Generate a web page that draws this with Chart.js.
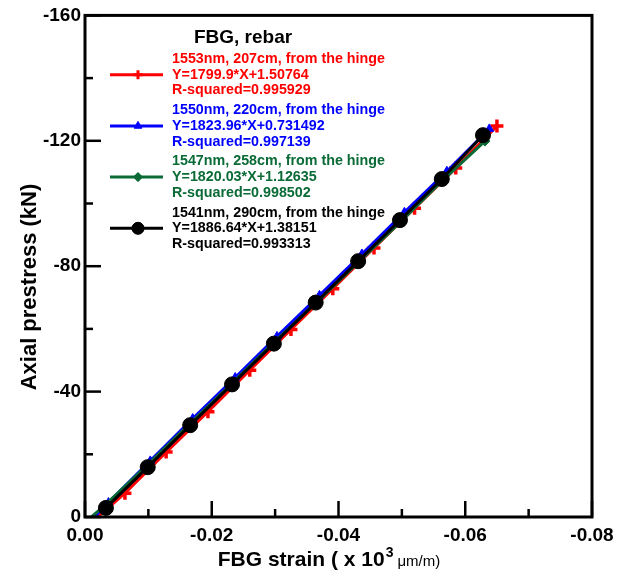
<!DOCTYPE html>
<html>
<head>
<meta charset="utf-8">
<script src="https://cdn.jsdelivr.net/npm/chart.js@4/dist/chart.umd.min.js"></script>
<style>
html,body{margin:0;padding:0;background:#fff;}
#wrap{width:623px;height:580px;}
</style>
</head>
<body>
<div id="wrap"><canvas id="c" width="623" height="580"></canvas></div>
<script>
// ---- data (strain in x10^3 um/m, prestress in kN) ----
const seriesNames = ["1553nm, 207cm, from the hinge","1550nm, 220cm, from the hinge","1547nm, 258cm, from the hinge","1541nm, 290cm, from the hinge"];
const fitTexts = ["Y=1799.9*X+1.50764","Y=1823.96*X+0.731492","Y=1820.03*X+1.12635","Y=1886.64*X+1.38151"];
const r2Texts = ["R-squared=0.995929","R-squared=0.997139","R-squared=0.998502","R-squared=0.993313"];
const legendTitle = "FBG, rebar";

const redX   = [-0.0020,-0.0063,-0.0128,-0.0194,-0.0260,-0.0325,-0.0391,-0.0456,-0.0520,-0.0585,-0.0650];
const redY   = [0,-7.6,-20.7,-33.6,-46.8,-59.8,-72.8,-85.8,-98.5,-111.3,-124.7];
const blueX  = [-0.0015,-0.0037,-0.0103,-0.0170,-0.0237,-0.0303,-0.0370,-0.0437,-0.0504,-0.0571,-0.0638];
const blueY  = [0,-4.6,-17.9,-31.4,-44.5,-57.6,-70.7,-83.9,-97.2,-110.3,-123.8];
const greenX = [-0.0010,-0.0030,-0.0097,-0.0164,-0.0230,-0.0296,-0.0364,-0.0431,-0.0497,-0.0563,-0.0631];
const greenY = [0,-3.5,-16.3,-29.5,-42.2,-55.3,-68.1,-81.2,-94.0,-107.1,-119.9];
const blackX = [-0.0033,-0.0099,-0.0166,-0.0232,-0.0298,-0.0364,-0.0431,-0.0497,-0.0563,-0.0628];
const blackY = [-2.9,-15.9,-29.3,-42.3,-55.3,-68.4,-81.6,-94.7,-107.8,-121.8];

const xTickStep = 0.01, xMin = -0.08, xMax = 0;
const yTickStep = 20, yMin = -160, yMax = 0;

const colors = ["#ff0000","#0000ff","#0a6b36","#000000"];
const styles = ["cross","triangle","rectRot","circle"];
const radii = [6.5,5,5,7.5];

function pts(xs, ys){ return xs.map((v,i)=>({x:v,y:ys[i]})); }

const FONT = "'Liberation Sans', Arial, Helvetica, sans-serif";
Chart.defaults.font.family = FONT;
Chart.defaults.color = '#000';

function ds(i, xs, ys, hideFirst, order){
  return {
    label: seriesNames[i],
    data: pts(xs, ys),
    showLine: true,
    borderColor: colors[i],
    backgroundColor: colors[i],
    borderWidth: 3,
    pointStyle: styles[i],
    pointRadius: ctx => (hideFirst && ctx.dataIndex === 0) ? 0 : radii[i],
    pointBorderWidth: i===0 ? 3.5 : 1,
    pointBorderColor: colors[i],
    pointBackgroundColor: colors[i],
    order: order,
    tension: 0
  };
}

const decor = {
  id: 'decor',
  afterDraw(chart){
    const {ctx, chartArea:a, scales:{x, y}} = chart;
    ctx.save();
    // inward ticks
    ctx.strokeStyle = '#000';
    ctx.lineWidth = 2.5;
    x.ticks.forEach(t=>{
      const px = x.getPixelForValue(t.value);
      const major = Math.round(Math.abs(t.value)/xTickStep) % 2 === 0;
      const len = major ? 16 : 8;
      ctx.beginPath(); ctx.moveTo(px, a.bottom); ctx.lineTo(px, a.bottom-len); ctx.stroke();
    });
    y.ticks.forEach(t=>{
      const py = y.getPixelForValue(t.value);
      const major = Math.round(Math.abs(t.value)/yTickStep) % 2 === 0;
      const len = major ? 16 : 8;
      ctx.beginPath(); ctx.moveTo(a.left, py); ctx.lineTo(a.left+len, py); ctx.stroke();
    });
    // frame
    ctx.lineWidth = 3;
    ctx.strokeRect(a.left, a.top, a.right-a.left, a.bottom-a.top);

    // y title
    ctx.fillStyle = '#000';
    ctx.save();
    ctx.translate(30, 287);
    ctx.rotate(-Math.PI/2);
    ctx.font = "bold 22px " + FONT;
    ctx.textAlign = 'center'; ctx.textBaseline = 'middle';
    ctx.fillText('Axial prestress (kN)', 0, 0);
    ctx.restore();

    // x title with superscript and unit
    const partA = 'FBG strain ( x 10', partB = '3', partC = 'μm/m)';
    const fA = "bold 21px " + FONT, fB = "bold 14px " + FONT, fC = "15px " + FONT;
    ctx.font = fA; const wA = ctx.measureText(partA).width;
    ctx.font = fB; const wB = ctx.measureText(partB).width;
    ctx.font = fC; const wC = ctx.measureText(partC).width;
    const total = wA + 1 + wB + 4 + wC;
    let sx = 329 - total/2; const base = 566;
    ctx.textAlign = 'left'; ctx.textBaseline = 'alphabetic';
    ctx.font = fA; ctx.fillText(partA, sx, base); sx += wA + 1;
    ctx.font = fB; ctx.fillText(partB, sx, base - 9); sx += wB + 4;
    ctx.font = fC; ctx.fillText(partC, sx, base);

    // legend
    ctx.font = "bold 19px " + FONT;
    ctx.textAlign = 'center'; ctx.textBaseline = 'middle';
    ctx.fillText(legendTitle, 243, 38);
    const rowH = 15.7, blockH = 51.2, top0 = 59;
    for (let i=0;i<4;i++){
      const y0 = top0 + i*blockH;
      const lineY = y0 + rowH;
      ctx.strokeStyle = colors[i]; ctx.fillStyle = colors[i];
      ctx.lineWidth = 3;
      ctx.beginPath(); ctx.moveTo(110, lineY); ctx.lineTo(163, lineY); ctx.stroke();
      const r = i===3 ? 6 : 4.5;
      ctx.lineWidth = i===0 ? 3 : 1;
      Chart.helpers.drawPoint(ctx, {pointStyle: styles[i], radius: r, borderWidth: ctx.lineWidth, rotation: 0}, 138, lineY);
      if (i!==0) ctx.fill();
      ctx.font = "bold 14.3px " + FONT;
      ctx.textAlign = 'left'; ctx.textBaseline = 'middle';
      ctx.fillText(seriesNames[i], 172, y0);
      ctx.fillText(fitTexts[i], 172, y0 + rowH);
      ctx.fillText(r2Texts[i], 172, y0 + 2*rowH);
    }
    ctx.restore();
  }
};

new Chart(document.getElementById('c'), {
  type: 'scatter',
  data: {
    datasets: [
      ds(3, blackX, blackY, false, 0),
      ds(2, greenX, greenY, true, 1),
      ds(1, blueX, blueY, true, 2),
      ds(0, redX, redY, true, 3)
    ]
  },
  options: {
    responsive: false,
    animation: false,
    devicePixelRatio: 1,
    layout: { padding: { left: 0, top: 14, right: 31, bottom: 0 } },
    plugins: { legend: { display: false }, tooltip: { enabled: false } },
    scales: {
      x: {
        type: 'linear', min: xMin, max: xMax, reverse: true,
        afterFit: s => { s.height = 63; },
        grid: { display: false, drawTicks: false },
        border: { display: false },
        ticks: {
          stepSize: xTickStep, padding: 7, autoSkip: false, maxRotation: 0,
          font: { size: 19, weight: 'bold' }, color: '#000',
          callback: v => (Math.round(Math.abs(v)/xTickStep) % 2 === 0) ? (Math.abs(v) < 1e-9 ? '0.00' : v.toFixed(2)) : ''
        }
      },
      y: {
        type: 'linear', min: yMin, max: yMax, reverse: true,
        afterFit: s => { s.width = 85; },
        grid: { display: false, drawTicks: false },
        border: { display: false },
        ticks: {
          stepSize: yTickStep, padding: 4, autoSkip: false,
          font: { size: 19, weight: 'bold' }, color: '#000',
          callback: v => (Math.round(Math.abs(v)/yTickStep) % 2 === 0) ? String(Math.round(v) === 0 ? 0 : Math.round(v)) : ''
        }
      }
    }
  },
  plugins: [decor]
});
</script>
</body>
</html>
